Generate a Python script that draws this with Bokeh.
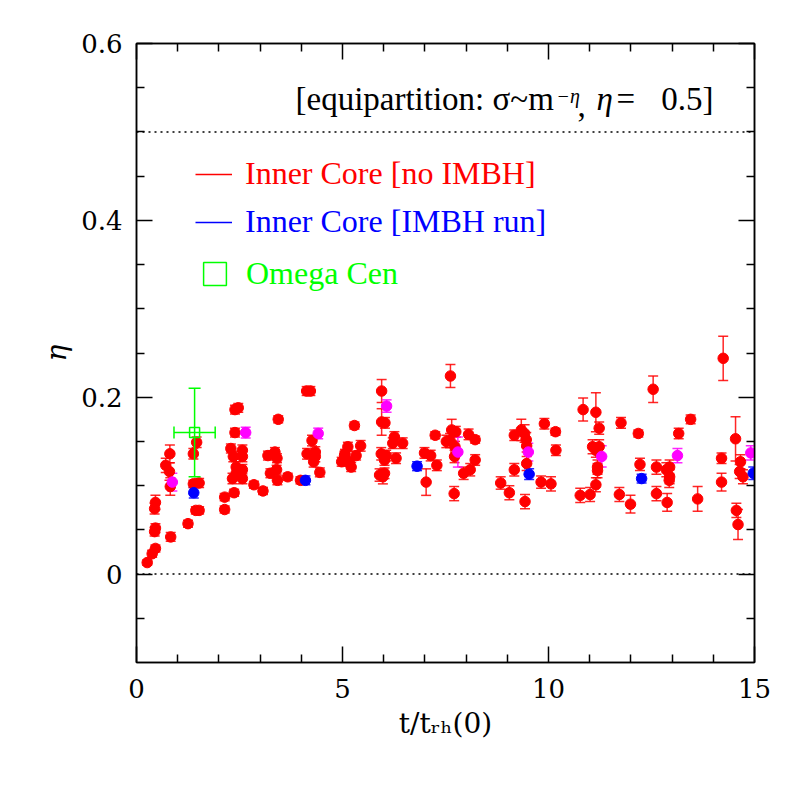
import numpy as np
from bokeh.plotting import figure
from bokeh.models import (ColumnDataSource, Whisker, TeeHead, Span, Label, LinearAxis,
                          FixedTicker, Legend, LegendItem, Range1d, CustomJSTickFormatter)
from bokeh.embed import file_html
from bokeh.resources import INLINE

# ---------------- data ----------------
red_t = [0.26, 0.38, 0.46, 0.44, 0.46, 0.44, 0.46, 0.83, 0.81, 0.71, 0.80, 0.82,
         1.25, 1.44, 1.52, 1.38, 1.52, 1.38, 1.46, 2.14, 2.14, 2.37, 2.29, 2.35,
         2.42, 2.42, 2.33, 2.39, 2.47, 2.39, 2.57, 2.57, 2.57, 2.57, 2.85, 3.07,
         3.44, 3.19, 3.36, 3.41, 3.25, 3.40, 3.42, 3.67, 3.98, 4.13, 4.22, 4.14,
         4.26, 4.34, 4.34, 4.30, 4.45, 4.98, 5.06, 5.29, 5.13, 5.05, 5.17, 5.21,
         5.33, 5.44, 5.95, 5.95, 6.03, 5.90, 5.98, 6.02, 5.94, 6.06, 6.02, 6.26,
         6.22, 6.30, 6.46, 6.99, 7.14, 7.29, 7.03, 7.25, 7.62, 7.52, 7.65, 7.75,
         7.61, 7.73, 7.72, 7.71, 8.06, 8.22, 8.22, 7.94, 8.10, 8.84, 9.05, 9.17,
         9.17, 9.34, 9.42, 9.46, 9.47, 9.47, 9.43, 9.82, 10.06, 9.90, 10.17, 10.18,
         10.77, 11.01, 10.84, 11.15, 11.23, 11.07, 11.15, 11.23, 11.19, 11.19, 11.15, 11.76,
         11.72, 11.99, 12.18, 12.22, 12.54, 12.62, 12.62, 12.86, 12.94, 12.94, 12.93, 12.88,
         13.16, 13.45, 13.62, 14.24, 14.20, 14.20, 14.54, 14.66, 14.64, 14.72, 14.56, 14.60]
red_eta = [0.013, 0.023, 0.029, 0.048, 0.052, 0.074, 0.081, 0.042, 0.136, 0.123, 0.116, 0.099,
           0.057, 0.072, 0.072, 0.102, 0.103, 0.136, 0.149, 0.087, 0.073, 0.092, 0.142, 0.133,
           0.121, 0.114, 0.108, 0.186, 0.188, 0.160, 0.140, 0.133, 0.118, 0.108, 0.101, 0.094,
           0.175, 0.134, 0.138, 0.131, 0.114, 0.118, 0.106, 0.110, 0.106, 0.207, 0.207, 0.136,
           0.151, 0.138, 0.133, 0.127, 0.115, 0.127, 0.136, 0.168, 0.144, 0.134, 0.127, 0.121,
           0.134, 0.145, 0.207, 0.172, 0.171, 0.112, 0.110, 0.114, 0.136, 0.134, 0.129, 0.155,
           0.148, 0.131, 0.148, 0.137, 0.134, 0.123, 0.104, 0.157, 0.224, 0.150, 0.163, 0.161,
           0.151, 0.144, 0.133, 0.091, 0.158, 0.152, 0.129, 0.114, 0.118, 0.103, 0.092, 0.118,
           0.157, 0.163, 0.159, 0.152, 0.145, 0.125, 0.082, 0.104, 0.102, 0.170, 0.161, 0.140,
           0.089, 0.090, 0.186, 0.183, 0.165, 0.144, 0.140, 0.144, 0.121, 0.117, 0.101, 0.171,
           0.090, 0.079, 0.159, 0.124, 0.209, 0.121, 0.091, 0.118, 0.121, 0.110, 0.106, 0.081,
           0.159, 0.175, 0.085, 0.244, 0.131, 0.104, 0.153, 0.127, 0.116, 0.110, 0.072, 0.056]
red_err = [0.003, 0.004, 0.004, 0.005, 0.005, 0.006, 0.008, 0.005, 0.010, 0.008, 0.010, 0.010,
           0.004, 0.004, 0.004, 0.004, 0.005, 0.006, 0.006, 0.004, 0.004, 0.004, 0.005, 0.006,
           0.006, 0.006, 0.006, 0.005, 0.005, 0.005, 0.006, 0.006, 0.006, 0.006, 0.004, 0.004,
           0.004, 0.005, 0.005, 0.005, 0.005, 0.005, 0.005, 0.004, 0.004, 0.005, 0.005, 0.006,
           0.006, 0.006, 0.006, 0.006, 0.005, 0.005, 0.005, 0.004, 0.005, 0.005, 0.005, 0.005,
           0.005, 0.006, 0.013, 0.015, 0.006, 0.007, 0.008, 0.006, 0.007, 0.006, 0.006, 0.006,
           0.006, 0.006, 0.006, 0.006, 0.006, 0.006, 0.015, 0.004, 0.013, 0.007, 0.012, 0.006,
           0.008, 0.006, 0.007, 0.008, 0.006, 0.004, 0.006, 0.007, 0.007, 0.007, 0.008, 0.007,
           0.006, 0.012, 0.010, 0.008, 0.007, 0.008, 0.008, 0.007, 0.008, 0.006, 0.004, 0.006,
           0.008, 0.008, 0.013, 0.022, 0.007, 0.008, 0.008, 0.008, 0.008, 0.008, 0.008, 0.006,
           0.008, 0.010, 0.004, 0.007, 0.015, 0.008, 0.008, 0.008, 0.008, 0.008, 0.008, 0.010,
           0.006, 0.005, 0.014, 0.025, 0.006, 0.010, 0.025, 0.008, 0.008, 0.008, 0.008, 0.017]

blue_t = [1.39, 4.10, 6.81, 9.53, 12.26, 14.97]
blue_eta = [0.092, 0.106, 0.122, 0.113, 0.108, 0.114]
blue_err = [0.006, 0.005, 0.005, 0.006, 0.005, 0.007]

mag_t = [0.87, 2.65, 4.41, 6.07, 7.80, 9.51, 11.29, 13.13, 14.91]
mag_eta = [0.104, 0.160, 0.159, 0.190, 0.138, 0.138, 0.133, 0.134, 0.137]
mag_err = [0.010, 0.006, 0.006, 0.007, 0.017, 0.010, 0.012, 0.008, 0.008]

omega_t = [1.41]
omega_eta = [0.160]
omega_terr = [0.50]
omega_etaerr = [0.050]

equipartition_eta = 0.5
x_major = [0, 5, 10, 15]
x_minor = [v for v in range(0, 16) if v % 5 != 0]
y_major = [0, 0.2, 0.4, 0.6]
y_minor = [-0.05, 0.05, 0.1, 0.15, 0.25, 0.3, 0.35, 0.45, 0.5, 0.55]
y_labels = {0: "0", 0.2: "0.2", 0.4: "0.4", 0.6: "0.6"}

SERIF = "Liberation Serif"
DV = "DejaVu Serif"

# ---------------- figure ----------------
p = figure(frame_width=618, frame_height=619, min_border_left=136, min_border_right=35,
           min_border_top=43, min_border_bottom=127,
           x_range=Range1d(0, 15), y_range=Range1d(-0.1, 0.6),
           output_backend="svg", toolbar_location=None)
p.xgrid.visible = False
p.ygrid.visible = False
p.outline_line_color = "black"
p.outline_line_width = 1.5
p.background_fill_color = "white"
p.border_fill_color = "white"

xt = FixedTicker(ticks=x_major, minor_ticks=x_minor)
yt = FixedTicker(ticks=y_major, minor_ticks=y_minor)

def style_axis(ax):
    ax.axis_line_color = "black"
    ax.axis_line_width = 1.5
    ax.major_tick_in = 16
    ax.major_tick_out = 0
    ax.minor_tick_in = 8
    ax.minor_tick_out = 0
    ax.major_tick_line_width = 1.5
    ax.minor_tick_line_width = 1.5
    ax.major_tick_line_color = "black"
    ax.minor_tick_line_color = "black"
    ax.major_label_text_font = DV
    ax.major_label_text_font_size = "26px"
    ax.major_label_text_color = "black"
    ax.axis_label_text_color = "black"

p.xaxis.ticker = xt
p.yaxis.ticker = yt
style_axis(p.xaxis[0])
style_axis(p.yaxis[0])
p.xaxis.major_label_standoff = 16
p.yaxis.major_label_standoff = 14
p.yaxis.major_label_overrides = y_labels
p.yaxis.axis_label = "η"
p.yaxis.axis_label_text_font = DV
p.yaxis.axis_label_text_font_style = "italic"
p.yaxis.axis_label_text_font_size = "28px"
p.yaxis.axis_label_standoff = 5
p.xaxis.axis_label = "t/tᵣₕ(0)"
p.xaxis.axis_label_text_font = DV
p.xaxis.axis_label_text_font_style = "normal"
p.xaxis.axis_label_text_font_size = "28px"
p.xaxis.axis_label_standoff = 6

blank = CustomJSTickFormatter(code="return ''")
top = LinearAxis(ticker=xt, formatter=blank)
right = LinearAxis(ticker=yt, formatter=blank)
style_axis(top)
style_axis(right)
top.major_label_standoff = 0
right.major_label_standoff = 0
p.add_layout(top, "above")
p.add_layout(right, "right")

# reference lines
p.add_layout(Span(location=equipartition_eta, dimension="width", line_color="black",
                  line_width=1.5, line_dash="2 4"))
p.add_layout(Span(location=0, dimension="width", line_color="black",
                  line_width=1.5, line_dash="2 4"))

def series(t, eta, err, color):
    src = ColumnDataSource(dict(t=t, eta=eta,
                                lo=[a - b for a, b in zip(eta, err)],
                                hi=[a + b for a, b in zip(eta, err)]))
    p.add_layout(Whisker(source=src, base="t", upper="hi", lower="lo",
                         line_color=color, line_width=1.5, line_alpha=0.85,
                         upper_head=TeeHead(size=10, line_color=color, line_width=1.5, line_alpha=0.85),
                         lower_head=TeeHead(size=10, line_color=color, line_width=1.5, line_alpha=0.85)))
    return p.scatter("t", "eta", source=src, size=10.5, fill_color=color, line_color=color)

series(red_t, red_eta, red_err, "#ff0000")
series(mag_t, mag_eta, mag_err, "#ff00ff")
series(blue_t, blue_eta, blue_err, "#0000ff")

# Omega Cen
osrc = ColumnDataSource(dict(t=omega_t, eta=omega_eta,
                             ylo=[omega_eta[0] - omega_etaerr[0]], yhi=[omega_eta[0] + omega_etaerr[0]],
                             xlo=[omega_t[0] - omega_terr[0]], xhi=[omega_t[0] + omega_terr[0]]))
g = "#00ff00"
p.add_layout(Whisker(source=osrc, base="t", upper="yhi", lower="ylo", line_color=g, line_width=1.5,
                     upper_head=TeeHead(size=12, line_color=g, line_width=1.5),
                     lower_head=TeeHead(size=12, line_color=g, line_width=1.5), level="overlay"))
p.add_layout(Whisker(source=osrc, base="eta", upper="xhi", lower="xlo", dimension="width",
                     line_color=g, line_width=1.5,
                     upper_head=TeeHead(size=12, line_color=g, line_width=1.5),
                     lower_head=TeeHead(size=12, line_color=g, line_width=1.5), level="overlay"))
p.scatter("t", "eta", source=osrc, marker="square", size=10, fill_color="white",
          fill_alpha=0, line_color=g, line_width=1.5, level="overlay")

# legend (keys only, renderers carry no visible data)
nan = [float("nan")]
r_red = p.line(nan, nan, line_color="#ff0000", line_width=1.5)
r_blue = p.line(nan, nan, line_color="#0000ff", line_width=1.5)
r_green = p.scatter(nan, nan, marker="square", fill_alpha=0, line_color=g, line_width=1.5)

def add_legend(label, rend, color, loc, gw, gh, standoff):
    leg = Legend(items=[LegendItem(label=label, renderers=[rend])], location=loc,
                 label_text_color=color, label_text_font=SERIF, label_text_font_size="32px",
                 glyph_width=gw, glyph_height=gh, label_standoff=standoff, padding=0, margin=0,
                 border_line_color=None, background_fill_alpha=0, label_height=gh)
    p.add_layout(leg)

add_legend("Inner Core [no IMBH]", r_red, "#ff0000", (59, 470), 37, 20, 13)
add_legend("Inner Core [IMBH run]", r_blue, "#0000ff", (59, 422), 37, 20, 13)
add_legend("Omega Cen", r_green, g, (50, 360), 57, 57, 3)

# annotation text
def px2x(px):
    return (px - 136) / 41.2

def py2y(py):
    return (574 - py) / 885.0

p.add_layout(Label(x=px2x(295), y=py2y(117), text="[equipartition: σ~m", text_font=SERIF,
                   text_font_size="33px", text_color="black", text_align="left"))
p.add_layout(Label(x=px2x(556), y=py2y(107), text="−η", text_font=SERIF,
                   text_font_size="20px", text_color="black", text_align="left", text_font_style="italic"))
p.add_layout(Label(x=px2x(577), y=py2y(117), text=",", text_font=SERIF,
                   text_font_size="33px", text_color="black", text_align="left"))
p.add_layout(Label(x=px2x(596), y=py2y(117), text="η", text_font=SERIF,
                   text_font_size="33px", text_color="black", text_align="left",
                   text_font_style="italic"))
p.add_layout(Label(x=px2x(616), y=py2y(117), text="=", text_font=SERIF,
                   text_font_size="33px", text_color="black", text_align="left"))
p.add_layout(Label(x=px2x(713), y=py2y(117), text="0.5]", text_font=SERIF,
                   text_font_size="33px", text_color="black", text_align="right"))

open("out.html", "w").write(file_html(p, INLINE))
